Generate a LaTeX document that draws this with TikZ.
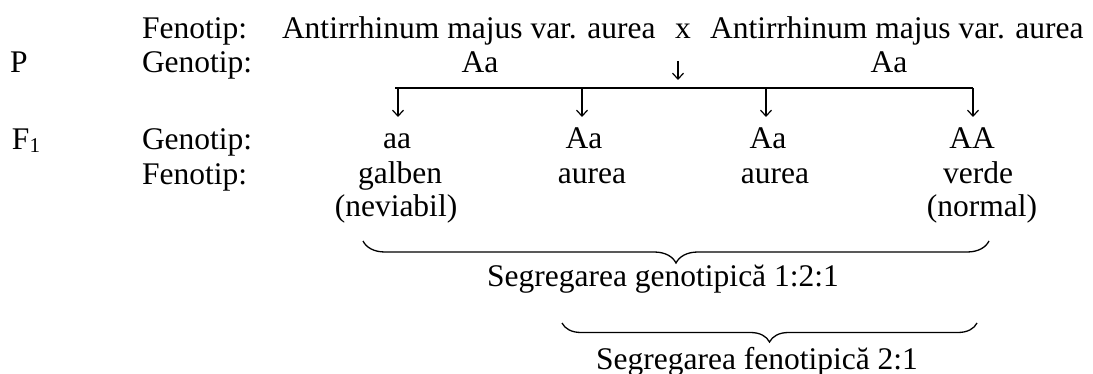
\documentclass[tikz,border=0pt]{standalone}
\usepackage{fontspec}
\setmainfont{Liberation Serif}
\usetikzlibrary{arrows.meta,decorations.pathreplacing}
\begin{document}
\begin{tikzpicture}[x=1pt,y=-1pt,
  every node/.style={inner sep=0pt,outer sep=0pt,font=\fontsize{31.5}{36}\selectfont},
  lt/.style={anchor=base west},
  ct/.style={anchor=base},
  arr/.style={line width=1.2pt,-{Straight Barb[length=6pt,width=11pt,line width=1.2pt]}},
  bar/.style={line width=1.3pt},
  brc/.style={line width=1.3pt,decorate,decoration={brace,amplitude=#1}}]
\useasboundingbox (0,0) rectangle (1093,374);
% row 1
\node[lt] (fen0) at (142,39) {Fenotip:};
\node[lt] (pa) at (282,39) {Antirrhinum majus var. aurea};
\node[ct] (x) at (683,39) {x};
\node[lt] (pb) at (710,39) {Antirrhinum majus var. aurea};
% row 2
\node[lt] (P) at (10,73) {P};
\node[lt] (gen0) at (142,73) {Genotip:};
\node[ct] (ga) at (480,73) {Aa};
\node[ct] (gb) at (889,73) {Aa};
\coordinate (d0) at (678,61);
\coordinate (d1) at (678,80);
\draw[arr] (d0) -- (d1);
% horizontal bar and arrows
\coordinate (bl) at (395,88);
\coordinate (br) at (973,88);
\draw[bar] (bl) -- (br);
\coordinate (s1) at (398,88);
\coordinate (s2) at (582,88);
\coordinate (s3) at (766,88);
\coordinate (s4) at (973,88);
\coordinate (e1) at (398,117);
\coordinate (e2) at (582,117);
\coordinate (e3) at (766,117);
\coordinate (e4) at (973,117);
\draw[arr] (s1) -- (e1);
\draw[arr] (s2) -- (e2);
\draw[arr] (s3) -- (e3);
\draw[arr] (s4) -- (e4);
% F1
\node[lt] (F1) at (12,150) {F\raisebox{-3pt}{\fontsize{21}{24}\selectfont 1}};
\node[lt] (gen1) at (142,150) {Genotip:};
\node[ct] (g1) at (397,149) {aa};
\node[ct] (g2) at (584,149) {Aa};
\node[ct] (g3) at (768,149) {Aa};
\node[ct] (g4) at (972,149) {AA};
\node[lt] (fen1) at (142,185) {Fenotip:};
\node[ct] (f1) at (400,184) {galben};
\node[ct] (f2) at (592,184) {aurea};
\node[ct] (f3) at (775,184) {aurea};
\node[ct] (f4) at (978,184) {verde};
\node[ct] (n1) at (396,217) {(neviabil)};
\node[ct] (n4) at (982,217) {(normal)};
% braces
\coordinate (b1r) at (989,241);
\coordinate (b1l) at (363,241);
\draw[brc=22pt] (b1r) -- (b1l);
\node[ct] (sg) at (663,287) {Segregarea genotipică 1:2:1};
\coordinate (b2r) at (977,323);
\coordinate (b2l) at (562,323);
\draw[brc=19pt] (b2r) -- (b2l);
\node[ct] (sf) at (757,369) {Segregarea fenotipică 2:1};
\end{tikzpicture}
\end{document}
